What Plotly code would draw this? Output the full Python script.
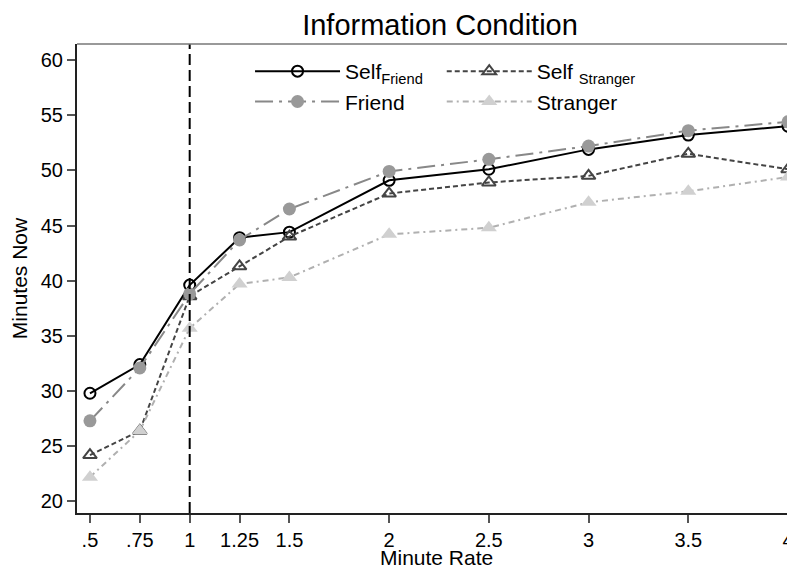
import plotly.graph_objects as go

minute_rate = [0.5, 0.75, 1, 1.25, 1.5, 2, 2.5, 3, 3.5, 4]
tick_labels = [".5", ".75", "1", "1.25", "1.5", "2", "2.5", "3", "3.5", "4"]
y_ticks = [20, 25, 30, 35, 40, 45, 50, 55, 60]

self_friend = [29.8, 32.4, 39.6, 43.9, 44.4, 49.1, 50.1, 51.9, 53.2, 54.0]
friend = [27.3, 32.1, 38.8, 43.7, 46.5, 49.9, 51.0, 52.2, 53.6, 54.4]
self_stranger = [24.2, 26.4, 38.6, 41.3, 44.0, 47.9, 48.9, 49.5, 51.5, 50.1]
stranger = [22.2, 26.4, 35.7, 39.7, 40.3, 44.2, 44.8, 47.1, 48.1, 49.4]

FONT = "Liberation Sans"
# the page adds an 8px body margin, so the figure is sized to fill the rest
W, H = 787, 558

fig = go.Figure()

fig.add_trace(go.Scatter(
    x=minute_rate, y=self_friend, mode="lines+markers",
    name="Self<sub>Friend</sub>", legend="legend",
    line=dict(color="black", width=2, dash="solid"),
    marker=dict(symbol="circle-open", size=11, color="black", line=dict(width=2, color="black")),
))
fig.add_trace(go.Scatter(
    x=minute_rate, y=self_stranger, mode="lines+markers",
    name="Self <sub>Stranger</sub>", legend="legend2",
    line=dict(color="#444444", width=2, dash="5px,3px"),
    marker=dict(symbol="triangle-up-open", size=12, color="#444444", line=dict(width=2, color="#444444")),
))
fig.add_trace(go.Scatter(
    x=minute_rate, y=friend, mode="lines+markers",
    name="Friend", legend="legend",
    line=dict(color="#888888", width=2, dash="18px,6px,3px,6px"),
    marker=dict(symbol="circle", size=13, color="#999999"),
))
fig.add_trace(go.Scatter(
    x=minute_rate, y=stranger, mode="lines+markers",
    name="Stranger", legend="legend2",
    line=dict(color="#b0b0b0", width=2, dash="6px,4px,2px,4px"),
    marker=dict(symbol="triangle-up", size=14, color="#d0d0d0"),
))

fig.add_shape(type="line", xref="x", yref="paper", x0=1, x1=1, y0=0, y1=1,
              line=dict(color="black", width=2, dash="11px,5px"))
fig.add_shape(type="line", xref="paper", yref="paper", x0=0, x1=1, y0=1, y1=1,
              line=dict(color="#777777", width=1.5))

fig.add_annotation(text="Minute Rate", xref="paper", yref="paper", x=0.5, y=-0.067,
                   xanchor="center", yanchor="top", showarrow=False,
                   font=dict(family=FONT, size=21, color="black"))

legend_common = dict(
    orientation="v", bgcolor="rgba(0,0,0,0)", borderwidth=0,
    font=dict(family=FONT, size=21, color="black"),
    xanchor="left", yanchor="top", itemwidth=85, tracegroupgap=0,
)

fig.update_layout(
    width=W, height=H,
    template="none",
    paper_bgcolor="white", plot_bgcolor="white",
    margin=dict(l=69, r=0, t=36, b=53),
    font=dict(family=FONT, size=20, color="black"),
    title=dict(text="Information Condition", font=dict(family=FONT, size=29, color="black"),
               x=432 / W, xref="container", xanchor="center",
               y=1 - 17 / H, yref="container", yanchor="middle"),
    showlegend=True,
    legend=dict(x=0.241, y=0.985, **legend_common),
    legend2=dict(x=0.508, y=0.985, **legend_common),
    xaxis=dict(
        range=[0.435, 4.035], tickmode="array", tickvals=minute_rate, ticktext=tick_labels,
        showgrid=False, zeroline=False, showline=True, linecolor="#222222", linewidth=2,
        ticks="outside", ticklen=8, tickwidth=1.5, tickcolor="#555555",
        tickfont=dict(family=FONT, size=20, color="black"), ticklabeloverflow="allow",
        automargin=False,
    ),
    yaxis=dict(
        range=[18.95, 61.45], tickmode="array", tickvals=y_ticks,
        showgrid=False, zeroline=False, showline=True, linecolor="#222222", linewidth=2,
        ticks="outside", ticklen=8, tickwidth=1.5, tickcolor="#555555",
        tickfont=dict(family=FONT, size=20, color="black"),
        title=dict(text="Minutes Now", font=dict(family=FONT, size=21, color="black"), standoff=10),
        automargin=False,
    ),
)

fig.write_html("out.html")
